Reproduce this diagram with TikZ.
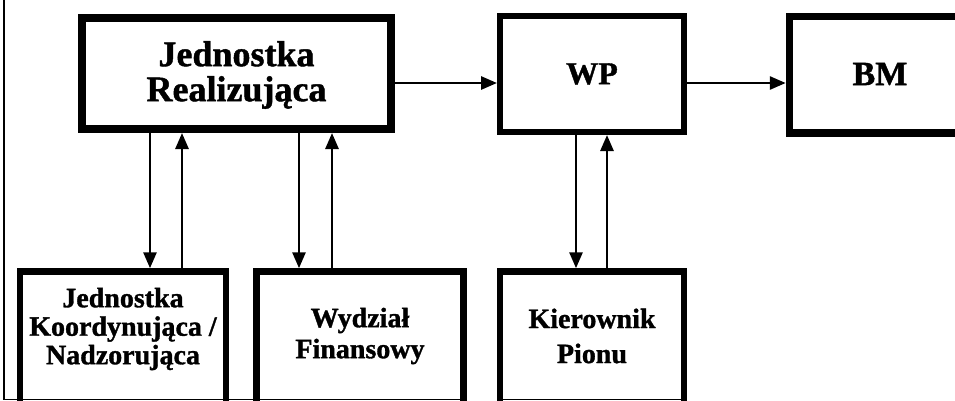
\documentclass[tikz,border=0pt]{standalone}
\usepackage{fontspec}
\setmainfont{Liberation Serif}[BoldFeatures={FakeBold=1.2}]
\usetikzlibrary{arrows.meta}
\tikzset{
  boxnode/.style={draw=black, rectangle, inner sep=0pt},
  lbl/.style={align=center, inner sep=0pt, font=\bfseries},
  arr/.style={line width=2.8pt, -{Triangle[length=16pt,width=13pt]}},
  frameline/.style={line width=1.2pt}
}
\begin{document}
\begin{tikzpicture}[x=1pt,y=-1pt]
\useasboundingbox (0,0) rectangle (955,400);
\clip (0,0) rectangle (955,400);
% boxes
\node[boxnode, line width=8pt, minimum width=309pt, minimum height=111pt] (jr) at (236.5,73.5) {};
\node[boxnode, line width=6pt, minimum width=184pt, minimum height=116pt] (wp) at (592,74) {};
\node[boxnode, line width=7.5pt, minimum width=185pt, minimum height=116.5pt] (bm) at (882,74.75) {};
\node[boxnode, line width=6.5pt, minimum width=206pt, minimum height=158.5pt] (jk) at (123,350.75) {};
\node[boxnode, line width=6.5pt, minimum width=207pt, minimum height=158.5pt] (wf) at (360,350.75) {};
\node[boxnode, line width=6.5pt, minimum width=184pt, minimum height=158.5pt] (kp) at (592,350.75) {};
% labels
\node[lbl, font=\bfseries\fontsize{36}{35}\selectfont] (jrt) at (236.5,75) {Jednostka\\Realizująca};
\node[lbl, font=\bfseries\fontsize{32}{32}\selectfont] (wpt) at (592,74) {WP};
\node[lbl, font=\bfseries\fontsize{34}{34}\selectfont] (bmt) at (880,74) {BM};
\node[lbl, font=\bfseries\fontsize{28}{28.5}\selectfont] (jkt) at (123,329) {Jednostka\\Koordynująca /\\Nadzorująca};
\node[lbl, font=\bfseries\fontsize{28}{31}\selectfont] (wft) at (360,336) {Wydział\\Finansowy};
\node[lbl, font=\bfseries\fontsize{28}{35}\selectfont] (kpt) at (592,336) {Kierownik\\Pionu};
% x positions of vertical connectors
\coordinate (xa) at (150,0);
\coordinate (xb) at (182,0);
\coordinate (xc) at (299,0);
\coordinate (xd) at (332,0);
\coordinate (xe) at (576,0);
\coordinate (xf) at (607,0);
\coordinate (ya) at (0,83);
% horizontal arrows
\draw[arr] (jr.east |- ya) -- (wp.west |- ya);
\draw[arr] (wp.east |- ya) -- (bm.west |- ya);
% vertical arrows
\draw[arr] (jr.south -| xa) -- (jk.north -| xa);
\draw[arr] (jk.north -| xb) -- (jr.south -| xb);
\draw[arr] (jr.south -| xc) -- (wf.north -| xc);
\draw[arr] (wf.north -| xd) -- (jr.south -| xd);
\draw[arr] (wp.south -| xe) -- (kp.north -| xe);
\draw[arr] (kp.north -| xf) -- (wp.south -| xf);
% frame lines
\coordinate (fl0) at (4,0);
\coordinate (fl1) at (4,400);
\coordinate (fb0) at (4,399.3);
\coordinate (fb1) at (467,399.3);
\coordinate (fb2) at (497,399.3);
\coordinate (fb3) at (687,399.3);
\draw[frameline] (fl0) -- (fl1);
\draw[frameline] (fb0) -- (fb1);
\draw[frameline] (fb2) -- (fb3);
\end{tikzpicture}
\end{document}
